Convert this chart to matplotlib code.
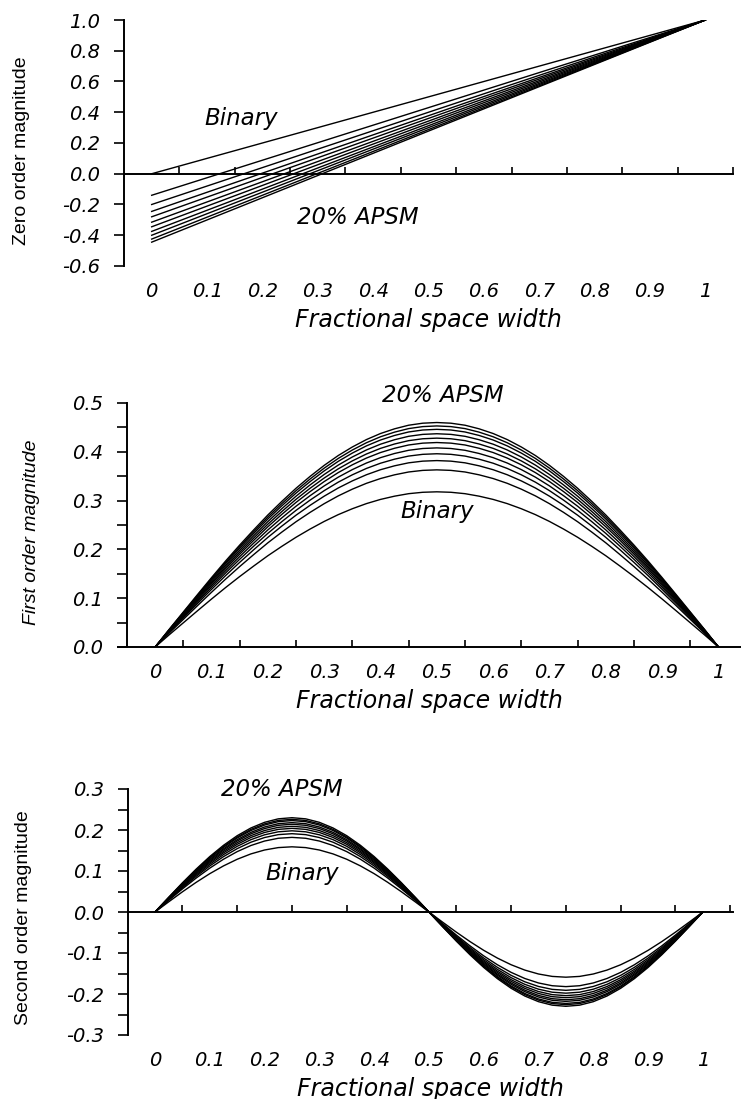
import numpy as np
import matplotlib
matplotlib.use("Agg")
from matplotlib import pyplot as plt
from matplotlib import font_manager
from matplotlib.ticker import MultipleLocator

plt.rcParams['axes.unicode_minus'] = False
plt.rcParams['font.family'] = ['DejaVu Sans']

# fractional space width samples
fsw = [0.0, 0.025, 0.05, 0.075, 0.1, 0.125, 0.15, 0.175, 0.2, 0.225, 0.25,
       0.275, 0.3, 0.325, 0.35, 0.375, 0.4, 0.425, 0.45, 0.475, 0.5,
       0.525, 0.55, 0.575, 0.6, 0.625, 0.65, 0.675, 0.7, 0.725, 0.75,
       0.775, 0.8, 0.825, 0.85, 0.875, 0.9, 0.925, 0.95, 0.975, 1.0]

# curve shapes (normalised to their peak)
first_shape = [0.0, 0.079, 0.156, 0.233, 0.309, 0.383, 0.454, 0.522, 0.588, 0.649, 0.707,
               0.760, 0.809, 0.853, 0.891, 0.924, 0.951, 0.972, 0.988, 0.997, 1.0,
               0.997, 0.988, 0.972, 0.951, 0.924, 0.891, 0.853, 0.809, 0.760, 0.707,
               0.649, 0.588, 0.522, 0.454, 0.383, 0.309, 0.233, 0.156, 0.079, 0.0]
second_shape = [0.0, 0.156, 0.309, 0.454, 0.588, 0.707, 0.809, 0.891, 0.951, 0.988, 1.0,
                0.988, 0.951, 0.891, 0.809, 0.707, 0.588, 0.454, 0.309, 0.156, 0.0,
                -0.156, -0.309, -0.454, -0.588, -0.707, -0.809, -0.891, -0.951, -0.988, -1.0,
                -0.988, -0.951, -0.891, -0.809, -0.707, -0.588, -0.454, -0.309, -0.156, 0.0]

# binary first, then APSM 2% ... 20% transmission
transmission = [0, 2, 4, 6, 8, 10, 12, 14, 16, 18, 20]
zero_at_0 = [0.0, -0.14, -0.20, -0.245, -0.28, -0.315, -0.345, -0.375, -0.40, -0.425, -0.445]
zero_at_1 = [1.0, 1.0, 1.0, 1.0, 1.0, 1.0, 1.0, 1.0, 1.0, 1.0, 1.0]
first_peak = [0.318, 0.363, 0.382, 0.396, 0.408, 0.419, 0.428, 0.437, 0.446, 0.453, 0.460]
second_peak = [0.159, 0.182, 0.191, 0.198, 0.204, 0.209, 0.214, 0.218, 0.223, 0.226, 0.230]

xlabels = ["0", "0.1", "0.2", "0.3", "0.4", "0.5", "0.6", "0.7", "0.8", "0.9", "1"]
xlabel_pos = [0.0, 0.1, 0.2, 0.3, 0.4, 0.5, 0.6, 0.7, 0.8, 0.9, 1.0]
xtick_pos = [0.05, 0.15, 0.25, 0.35, 0.45, 0.55, 0.65, 0.75, 0.85, 0.95, 1.05]

# condensed font for the y titles if we have it
installed = {f.name for f in font_manager.fontManager.ttflist}
if "Liberation Sans Narrow" in installed:
    ylab_font, ylab_size = ["Liberation Sans Narrow", "DejaVu Sans"], 17.5
else:
    ylab_font, ylab_size = ["Liberation Sans", "DejaVu Sans"], 14

TICK_FS = 14
NOTE_FS = 16.5

W, H = 741, 1099
fig = plt.figure(figsize=(W / 100, H / 100), dpi=100)


def add_panel(left, right, top, bottom):
    return fig.add_axes([left / W, 1 - bottom / H, (right - left) / W, (bottom - top) / H])


def style(ax, xlim, ylim, yticks, ylabels, minor, ylabel, ylab_xy, ylab_style):
    ax.set_xlim(*xlim)
    ax.set_ylim(*ylim)
    for s in ("top", "right"):
        ax.spines[s].set_visible(False)
    ax.spines["bottom"].set_position(("data", 0))
    ax.spines["left"].set_position(("data", -0.05))
    for s in ("bottom", "left"):
        ax.spines[s].set_linewidth(1.4)
    ax.set_xticks([t for t in xtick_pos if t <= xlim[1] + 1e-9])
    ax.tick_params(axis="x", direction="in", length=5, width=1.2, labelbottom=False)
    ax.set_yticks(yticks, ylabels, fontsize=TICK_FS, fontstyle="italic")
    if minor:
        ax.yaxis.set_minor_locator(MultipleLocator(minor))
    ax.tick_params(axis="y", which="both", direction="out", length=7, width=1.2, pad=10)

    sec = ax.secondary_xaxis("bottom")
    sec.spines["bottom"].set_visible(False)
    sec.set_xticks(xlabel_pos, xlabels, fontsize=TICK_FS, fontstyle="italic")
    sec.tick_params(length=0, pad=11.5)
    sec.set_xlabel("Fractional space width", fontsize=17, fontstyle="italic", labelpad=5)

    ax.set_ylabel(ylabel, family=ylab_font, fontsize=ylab_size,
                  fontstyle=ylab_style, va="center")
    ax.yaxis.set_label_coords(*ylab_xy)


# zero order
ax1 = add_panel(124, 733, 20, 266)
for a, b in zip(zero_at_0, zero_at_1):
    ax1.plot([0.0, 1.0], [a, b], color="black", lw=1.0)
style(ax1, (-0.05, 1.05), (-0.6, 1.0),
      [-0.6, -0.4, -0.2, 0.0, 0.2, 0.4, 0.6, 0.8, 1.0],
      ["-0.6", "-0.4", "-0.2", "0.0", "0.2", "0.4", "0.6", "0.8", "1.0"],
      None, "Zero order magnitude", ((21 - 124) / 609, (266 - 151) / 246), "normal")
ax1.text(0.161, 0.361, "Binary", fontsize=NOTE_FS, fontstyle="italic", ha="center", va="center")
ax1.text(0.372, -0.284, "20% APSM", fontsize=NOTE_FS, fontstyle="italic", ha="center", va="center")

# first order
ax2 = add_panel(118, 741, 403, 647)
for p in first_peak:
    ax2.plot(fsw, np.array(first_shape) * p, color="black", lw=1.0)
style(ax2, (-0.066, 1.04), (0.0, 0.5),
      [0.0, 0.1, 0.2, 0.3, 0.4, 0.5],
      ["0.0", "0.1", "0.2", "0.3", "0.4", "0.5"],
      0.05, "First order magnitude", ((31 - 118) / 623, (647 - 532) / 244), "italic")
ax2.text(0.51, 0.516, "20% APSM", fontsize=NOTE_FS, fontstyle="italic", ha="center", va="center")
ax2.text(0.50, 0.277, "Binary", fontsize=NOTE_FS, fontstyle="italic", ha="center", va="center")

# second order
ax3 = add_panel(127.6, 733, 789, 1035)
for p in second_peak:
    ax3.plot(fsw, np.array(second_shape) * p, color="black", lw=1.0)
style(ax3, (-0.05, 1.055), (-0.3, 0.3),
      [-0.3, -0.2, -0.1, 0.0, 0.1, 0.2, 0.3],
      ["-0.3", "-0.2", "-0.1", "0.0", "0.1", "0.2", "0.3"],
      0.05, "Second order magnitude", ((23 - 127.6) / 605.4, (1035 - 918) / 246), "normal")
ax3.text(0.232, 0.298, "20% APSM", fontsize=NOTE_FS, fontstyle="italic", ha="center", va="center")
ax3.text(0.268, 0.095, "Binary", fontsize=NOTE_FS, fontstyle="italic", ha="center", va="center")

fig.savefig("out.png", dpi=100)
